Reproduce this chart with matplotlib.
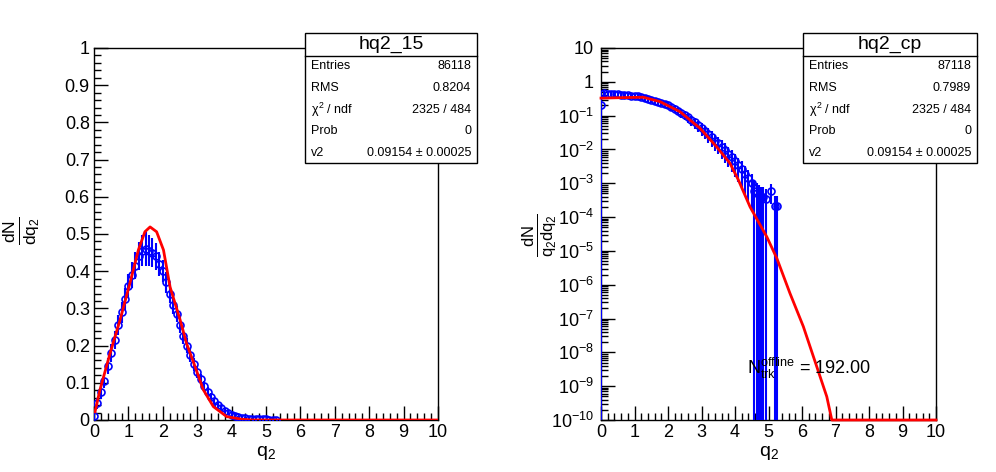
"""Recreate the two-panel q2 distribution figure (linear + log) in ROOT style."""
import matplotlib

matplotlib.use("Agg")
import matplotlib.pyplot as plt
import numpy as np
from matplotlib.patches import Rectangle
from matplotlib.ticker import FixedLocator, FuncFormatter, LogLocator, MultipleLocator, NullFormatter

plt.rcParams["font.family"] = ["Liberation Sans", "DejaVu Sans"]
plt.rcParams["mathtext.fontset"] = "custom"
plt.rcParams["mathtext.rm"] = "Liberation Sans"
plt.rcParams["mathtext.it"] = "Liberation Sans"
plt.rcParams["mathtext.bf"] = "Liberation Sans:bold"

W, H = 996, 472
BLUE = "#0000ff"
RED = "#ff0000"

# ---- left panel: dN/dq2 ----
q_lin = [0.005, 0.1, 0.2, 0.3, 0.4, 0.5, 0.6, 0.7, 0.8, 0.9, 1.0, 1.1, 1.2, 1.3,
         1.4, 1.5, 1.6, 1.7, 1.8, 1.9, 2.0, 2.1, 2.2, 2.3, 2.4, 2.5, 2.6, 2.7,
         2.8, 2.9, 3.0, 3.1, 3.2, 3.3, 3.4, 3.5, 3.6, 3.7, 3.8, 3.9, 4.0, 4.1,
         4.2, 4.3, 4.4, 4.5, 4.6, 4.7, 4.8, 4.9, 5.0, 5.1, 5.2, 5.3]
y_lin = [0.010, 0.045, 0.075, 0.105, 0.145, 0.180, 0.215, 0.255, 0.290, 0.325,
         0.360, 0.390, 0.415, 0.440, 0.455, 0.460, 0.455, 0.450, 0.440, 0.420,
         0.400, 0.370, 0.340, 0.310, 0.285, 0.255, 0.225, 0.200, 0.175, 0.150,
         0.130, 0.110, 0.092, 0.076, 0.062, 0.050, 0.040, 0.032, 0.025, 0.019,
         0.014, 0.011, 0.008, 0.006, 0.005, 0.004, 0.003, 0.003, 0.002, 0.002,
         0.002, 0.001, 0.001, 0.001]
e_lin = [0.010, 0.015, 0.018, 0.020, 0.022, 0.024, 0.025, 0.026, 0.028, 0.030,
         0.032, 0.034, 0.036, 0.038, 0.042, 0.045, 0.042, 0.040, 0.036, 0.032,
         0.030, 0.028, 0.026, 0.024, 0.022, 0.022, 0.020, 0.020, 0.018, 0.018,
         0.016, 0.015, 0.014, 0.012, 0.011, 0.010, 0.009, 0.008, 0.007, 0.006,
         0.005, 0.005, 0.004, 0.004, 0.003, 0.003, 0.002, 0.002, 0.002, 0.002,
         0.002, 0.001, 0.001, 0.001]

# fit curve, left panel
fit_q_lin = [0.03, 0.17, 0.47, 0.76, 1.05, 1.29, 1.48, 1.63, 1.82, 2.02, 2.21,
             2.50, 2.69, 2.94, 3.18, 3.47, 3.86, 4.30, 4.60, 10.0]
fit_y_lin = [0.022, 0.080, 0.180, 0.270, 0.370, 0.457, 0.506, 0.519, 0.506,
             0.457, 0.358, 0.270, 0.206, 0.143, 0.081, 0.036, 0.009, 0.002,
             0.0, 0.0]

# ---- right panel: dN/(q2 dq2) ----
q_log = [0.005, 0.1, 0.2, 0.3, 0.4, 0.5, 0.6, 0.7, 0.8, 0.9, 1.0, 1.1, 1.2, 1.3,
         1.4, 1.5, 1.6, 1.7, 1.8, 1.9, 2.0, 2.1, 2.2, 2.3, 2.4, 2.5, 2.6, 2.7,
         2.8, 2.9, 3.0, 3.1, 3.2, 3.3, 3.4, 3.5, 3.6, 3.7, 3.8, 3.9, 4.0, 4.1,
         4.2, 4.3, 4.4, 4.5, 4.58, 4.65, 4.72, 4.78, 4.85, 4.92, 5.07, 5.19, 5.26]
y_log = [0.20, 0.46, 0.45, 0.45, 0.44, 0.43, 0.42, 0.41, 0.40, 0.39, 0.38, 0.37,
         0.36, 0.34, 0.32, 0.30, 0.28, 0.26, 0.24, 0.22, 0.20, 0.18, 0.16, 0.14,
         0.12, 0.105, 0.09, 0.075, 0.063, 0.052, 0.043, 0.035, 0.029, 0.023,
         0.018, 0.015, 0.012, 0.0095, 0.0075, 0.0058, 0.0045, 0.0034, 0.0026,
         0.0019, 0.0014, 0.0010, 6e-4, 5e-4, 4.5e-4, 4e-4, 4e-4, 3.5e-4,
         6e-4, 2.1e-4, 2.1e-4]
# relative errors (>=1 means the lower bar runs off the axis)
r_log = [1.0, 0.20, 0.18, 0.18, 0.18, 0.18, 0.18, 0.18, 0.18, 0.18, 0.18, 0.19,
         0.19, 0.20, 0.20, 0.21, 0.21, 0.22, 0.22, 0.23, 0.24, 0.25, 0.26, 0.27,
         0.28, 0.30, 0.31, 0.33, 0.35, 0.37, 0.40, 0.42, 0.45, 0.48, 0.50, 0.52,
         0.55, 0.58, 0.60, 0.62, 0.65, 0.68, 0.70, 0.75, 0.80, 0.85, 1.0, 1.0,
         1.0, 1.0, 1.0, 1.0, 0.6, 1.0, 1.0]

fit_q_log = [0.0, 0.07, 0.60, 1.26, 1.76, 2.36, 2.96, 3.45, 3.85, 4.10, 4.45,
             4.95, 5.25, 5.64, 6.04, 6.44, 6.74, 6.89, 10.0]
fit_y_log = [0.33, 0.33, 0.34, 0.35, 0.26, 0.13, 0.042, 0.012, 3.9e-3, 1.26e-3,
             2.0e-4, 2.6e-5, 6.0e-6, 5.6e-7, 5.8e-8, 3.8e-9, 4.9e-10, 1e-10, 1e-10]

stats_left = ["hq2_15", "86118", "0.8204", "2325 / 484", "0", "0.09154 \u00b1 0.00025"]
stats_right = ["hq2_cp", "87118", "0.7989", "2325 / 484", "0", "0.09154 \u00b1 0.00025"]
stat_names = ["Entries", "RMS", r"$\chi^{2}$ / ndf", "Prob", "v2"]


def fx(px):
    return px / W


def fy(py):
    return 1.0 - py / H


def style_axis(ax):
    ax.set_xlim(0, 10)
    ax.xaxis.set_major_locator(MultipleLocator(1))
    ax.xaxis.set_minor_locator(MultipleLocator(0.2))
    ax.tick_params(which="both", direction="in", top=False, right=False,
                   labelsize=13, width=1, color="black")
    ax.tick_params(which="major", length=10, pad=3)
    ax.tick_params(which="minor", length=5)
    for sp in ax.spines.values():
        sp.set_linewidth(1)
    ax.set_xlabel(r"$\mathregular{q_{2}}$", fontsize=14, labelpad=2)


def stats_box(fig, x0, x1, rows):
    y0, y1, ytitle = 33, 163, 56
    fig.add_artist(Rectangle((fx(x0), fy(y1)), fx(x1) - fx(x0), fy(y0) - fy(y1),
                             transform=fig.transFigure, facecolor="white",
                             edgecolor="black", linewidth=1, zorder=5))
    fig.add_artist(plt.Line2D([fx(x0), fx(x1)], [fy(ytitle), fy(ytitle)],
                              transform=fig.transFigure, color="black",
                              linewidth=1, zorder=6))
    fig.text(fx((x0 + x1) / 2), fy(44.5), rows[0], ha="center", va="center",
             fontsize=14, zorder=7)
    for yy, name, val in zip([66, 88, 110, 131, 153], stat_names, rows[1:]):
        fig.text(fx(x0 + 6), fy(yy), name, ha="left", va="center",
                 fontsize=9, zorder=7)
        fig.text(fx(x1 - 6), fy(yy), val, ha="right", va="center",
                 fontsize=9, zorder=7)


def log_label(v, pos):
    e = int(round(np.log10(v)))
    if e == 0:
        return "1"
    if e == 1:
        return "10"
    return r"$\mathregular{10^{%d}}$" % e


fig = plt.figure(figsize=(W / 100, H / 100), dpi=100)
fig.patch.set_facecolor("white")

# left panel
ax1 = fig.add_axes([fx(94), fy(420), fx(438) - fx(94), fy(48) - fy(420)])
style_axis(ax1)
ax1.set_ylim(0, 1)
ax1.yaxis.set_major_locator(MultipleLocator(0.1))
ax1.yaxis.set_minor_locator(MultipleLocator(0.02))
ax1.yaxis.set_major_formatter(FuncFormatter(lambda v, p: "0" if v == 0 else ("1" if v == 1 else f"{v:.1f}")))
ax1.errorbar(q_lin, y_lin, yerr=e_lin, fmt="o", mfc="none", mec=BLUE,
             ecolor=BLUE, ms=5, mew=1.2, elinewidth=1.5, capsize=0, zorder=3)
ax1.plot(fit_q_lin, fit_y_lin, color=RED, linewidth=2, zorder=4)

# right panel
ax2 = fig.add_axes([fx(601), fy(420), fx(936) - fx(601), fy(48) - fy(420)])
style_axis(ax2)
ax2.set_yscale("log")
ax2.set_ylim(1e-10, 10)
ax2.yaxis.set_major_locator(FixedLocator([10.0 ** e for e in range(-10, 2)]))
ax2.yaxis.set_minor_locator(LogLocator(base=10, subs=range(2, 10), numticks=30))
ax2.yaxis.set_minor_formatter(NullFormatter())
ax2.yaxis.set_major_formatter(FuncFormatter(log_label))
ax2.tick_params(axis="y", which="major", pad=5)
ylog = np.array(y_log)
lo = np.minimum(ylog * np.array(r_log), ylog - 1e-13)
hi = ylog * np.array(r_log)
ax2.errorbar(q_log, y_log, yerr=[lo, hi], fmt="o", mfc="none", mec=BLUE,
             ecolor=BLUE, ms=5, mew=1.2, elinewidth=1.5, capsize=0, zorder=3)
ax2.plot(fit_q_log, fit_y_log, color=RED, linewidth=2, zorder=4, clip_on=False)

ax2.text(4.35, 10 ** -8.65, r"$\mathregular{N_{trk}^{offline}}$ = 192.00",
         fontsize=13, ha="left", va="baseline", zorder=6)

# y titles
fig.text(fx(21), fy(231), r"$\mathregular{\frac{dN}{dq_{2}}}$", rotation=90,
         ha="center", va="center", fontsize=18)
fig.text(fx(539), fy(235), r"$\mathregular{\frac{dN}{q_{2}dq_{2}}}$", rotation=90,
         ha="center", va="center", fontsize=17)

stats_box(fig, 305, 477, stats_left)
stats_box(fig, 803, 977, stats_right)

fig.savefig("out.png", dpi=100)
